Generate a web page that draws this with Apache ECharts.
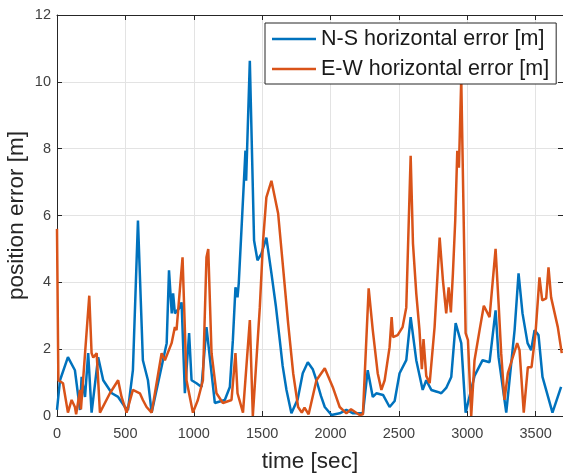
<!DOCTYPE html>
<html>
<head>
<meta charset="utf-8">
<script src="https://cdn.jsdelivr.net/npm/echarts@6/dist/echarts.min.js"></script>
<style>
  html, body { margin: 0; padding: 0; background: #fff; }
  #chart { width: 563px; height: 476px; }
</style>
</head>
<body>
<div id="chart"></div>
<script>
// N-S horizontal error (time in sec, error in m)
const nsTime = [0, 22, 80, 131, 168, 180, 205, 228, 253, 301, 338, 401, 447, 497, 519, 555, 592, 628, 665, 692,
  775, 802, 819, 839, 849, 862, 898, 911, 935, 966, 984, 1020, 1057, 1093, 1154, 1227, 1264, 1286, 1305, 1320,
  1329, 1366, 1378, 1383, 1410, 1441, 1466, 1495, 1531, 1568, 1600, 1629, 1650, 1678, 1714, 1760, 1797, 1834,
  1870, 1897, 1930, 1958, 2007, 2067, 2116, 2165, 2237, 2272, 2309, 2335, 2384, 2432, 2469, 2505, 2554, 2586,
  2627, 2674, 2700, 2737, 2784, 2810, 2846, 2883, 2915, 2956, 2988, 3053, 3112, 3163, 3207, 3229, 3285, 3346,
  3375, 3404, 3441, 3467, 3492, 3521, 3550, 3623, 3686]
const nsErr = [0.18, 1.07, 1.76, 1.37, 0.18, 1.17, 0.57, 1.88, 0.1, 1.76, 1.07, 0.68, 0.57, 0.27, 0.18, 1.37, 5.85, 1.67, 1.07, 0.1,
  1.67, 2.18, 4.36, 3.07, 3.67, 3.07, 3.25, 3.4, 0.68, 2.48, 1.07, 0.98, 0.87, 2.66, 0.39, 0.48, 0.87, 2.27, 3.85, 3.55,
  3.97, 6.96, 7.94, 7.04, 10.63, 5.25, 4.66, 4.86, 5.34, 4.27, 3.3, 2.27, 1.5, 0.78, 0.08, 0.5, 1.28, 1.61,
  1.4, 1.07, 0.6, 0.27, 0.03, 0.08, 0.18, 0.08, 0.08, 1.37, 0.57, 0.68, 0.63, 0.27, 0.45, 1.28, 1.67, 2.96,
  1.67, 0.78, 1.07, 0.78, 0.72, 0.68, 0.84, 1.17, 2.78, 2.18, 0.1, 1.2, 1.67, 1.61, 3.16, 1.76, 0.1, 2.57,
  4.27, 3.07, 2.18, 1.97, 2.57, 2.42, 1.17, 0.1, 0.87]

// E-W horizontal error
const ewTime = [0, 10, 44, 80, 107, 131, 140, 168, 175, 236, 253, 265, 290, 314, 387, 447, 472, 509, 555, 606,
  628, 655, 692, 765, 789, 838, 862, 874, 898, 918, 947, 994, 1030, 1067, 1093, 1106, 1130, 1166, 1213, 1276,
  1305, 1320, 1360, 1410, 1432, 1483, 1507, 1531, 1568, 1617, 1653, 1690, 1727, 1763, 1790, 1810, 1840, 1897,
  1958, 2016, 2067, 2116, 2150, 2213, 2237, 2279, 2309, 2345, 2372, 2396, 2432, 2447, 2457, 2491, 2527, 2554,
  2586, 2603, 2627, 2650, 2668, 2680, 2700, 2725, 2761, 2798, 2822, 2846, 2864, 2880, 2895, 2912, 2927, 2939,
  2956, 2988, 3005, 3029, 3053, 3090, 3121, 3163, 3207, 3229, 3248, 3272, 3297, 3333, 3365, 3382, 3413, 3443,
  3470, 3499, 3528, 3548, 3577, 3594, 3613, 3662, 3691]
const ewErr = [5.6, 1.07, 0.98, 0.1, 0.48, 0.27, 0.05, 0.78, 0.2, 3.6, 1.88, 1.75, 1.88, 0.1, 0.68, 1.07, 0.57, 0.1, 0.78, 0.68,
  0.48, 0.27, 0.1, 1.88, 1.67, 2.18, 2.66, 2.57, 3.76, 4.75, 1.07, 0.1, 0.48, 1.07, 4.75, 5.0, 1.88, 0.68, 0.39, 0.48,
  1.88, 0.68, 0.1, 2.87, 0, 3.25, 5.25, 6.54, 7.04, 6.06, 4.45, 2.78, 1.28, 0.27, 0.1, 0.25, 0.05, 1.07,
  1.43, 0.87, 0.27, 0.08, 0.2, 0.03, 0.05, 3.82, 2.57, 1.28, 0.78, 1.07, 2.06, 2.96, 2.36, 2.42, 2.66, 3.25,
  7.79, 5.16, 3.67, 2.6, 1.4, 2.3, 1.2, 0.98, 2.66, 5.34, 4.06, 3.07, 3.85, 3.1, 4.27, 5.85, 7.94, 7.43,
  10.1, 2.48, 2.27, 0, 1.67, 2.57, 3.3, 2.96, 5.0, 3.37, 1.88, 0.48, 1.28, 1.76, 2.18, 1.97, 0.1, 1.46,
  1.46, 2.48, 4.15, 3.46, 3.52, 4.45, 3.55, 2.66, 1.88]

const seriesNames = ['N-S horizontal error [m]', 'E-W horizontal error [m]']
const xTicks = { min: 0, max: 3700, interval: 500 }
const yTicks = { min: 0, max: 12, interval: 2 }

const pairs = (xs, ys) => xs.map((x, i) => [x, ys[i]])

const font = '"Liberation Sans", Arial, Helvetica, sans-serif'
const axisColor = '#262626'
// thin horizontal bar centred in a 44x14 box, used as legend line sample
const lineIcon = 'path://M0,0h44v0.01h-44z M0,5.75h44v2.5h-44z M0,13.99h44v0.01h-44z'

const frameAxis = {
  axisLine: { show: true, onZero: false, lineStyle: { color: axisColor, width: 1 } },
  axisTick: { show: true, inside: true, length: 5, lineStyle: { color: axisColor } },
  axisLabel: { show: false },
  splitLine: { show: false }
}

const chart = echarts.init(document.getElementById('chart'))
chart.setOption({
  animation: false,
  backgroundColor: '#fff',
  textStyle: { fontFamily: font },
  grid: { left: 57, top: 15, right: 0, bottom: 60, outerBoundsMode: 'none', containLabel: false },
  legend: {
    data: seriesNames,
    icon: lineIcon,
    symbolKeepAspect: false,
    orient: 'vertical',
    left: 265,
    top: 23,
    padding: [5, 7, 4, 7],
    itemGap: 8,
    itemWidth: 44,
    itemHeight: 14,
    backgroundColor: '#fff',
    borderColor: axisColor,
    borderWidth: 1,
    textStyle: { fontSize: 21.5, color: '#1a1a1a', fontFamily: font }
  },
  xAxis: [
    {
      type: 'value',
      ...xTicks,
      name: 'time [sec]',
      nameLocation: 'middle',
      nameGap: 34,
      nameMoveOverlap: false,
      nameTextStyle: { fontSize: 22.5, color: axisColor, fontFamily: font },
      axisLine: { show: true, onZero: false, lineStyle: { color: axisColor, width: 1 } },
      axisTick: { show: true, inside: true, length: 5, lineStyle: { color: axisColor } },
      axisLabel: { fontSize: 14.5, color: '#404040', margin: 10, showMaxLabel: false, formatter: (v) => String(v) },
      splitLine: { show: true, lineStyle: { color: '#e3e3e3', width: 1 } }
    },
    { type: 'value', position: 'top', ...xTicks, ...frameAxis }
  ],
  yAxis: [
    {
      type: 'value',
      ...yTicks,
      name: 'position error [m]',
      nameLocation: 'middle',
      nameGap: 29,
      nameMoveOverlap: false,
      nameTextStyle: { fontSize: 22.5, color: axisColor, fontFamily: font },
      axisLine: { show: true, onZero: false, lineStyle: { color: axisColor, width: 1 } },
      axisTick: { show: true, inside: true, length: 5, lineStyle: { color: axisColor } },
      axisLabel: { fontSize: 14.5, color: '#404040', margin: 6, formatter: (v) => String(v) },
      splitLine: { show: true, lineStyle: { color: '#e3e3e3', width: 1 } }
    },
    { type: 'value', position: 'right', ...yTicks, ...frameAxis }
  ],
  series: [
    {
      name: seriesNames[0],
      type: 'line',
      data: pairs(nsTime, nsErr),
      symbol: 'none',
      clip: true,
      itemStyle: { color: '#0072BD' },
      lineStyle: { color: '#0072BD', width: 2.5 }
    },
    {
      name: seriesNames[1],
      type: 'line',
      data: pairs(ewTime, ewErr),
      symbol: 'none',
      clip: true,
      itemStyle: { color: '#D95319' },
      lineStyle: { color: '#D95319', width: 2.5 }
    }
  ]
})
</script>
</body>
</html>
